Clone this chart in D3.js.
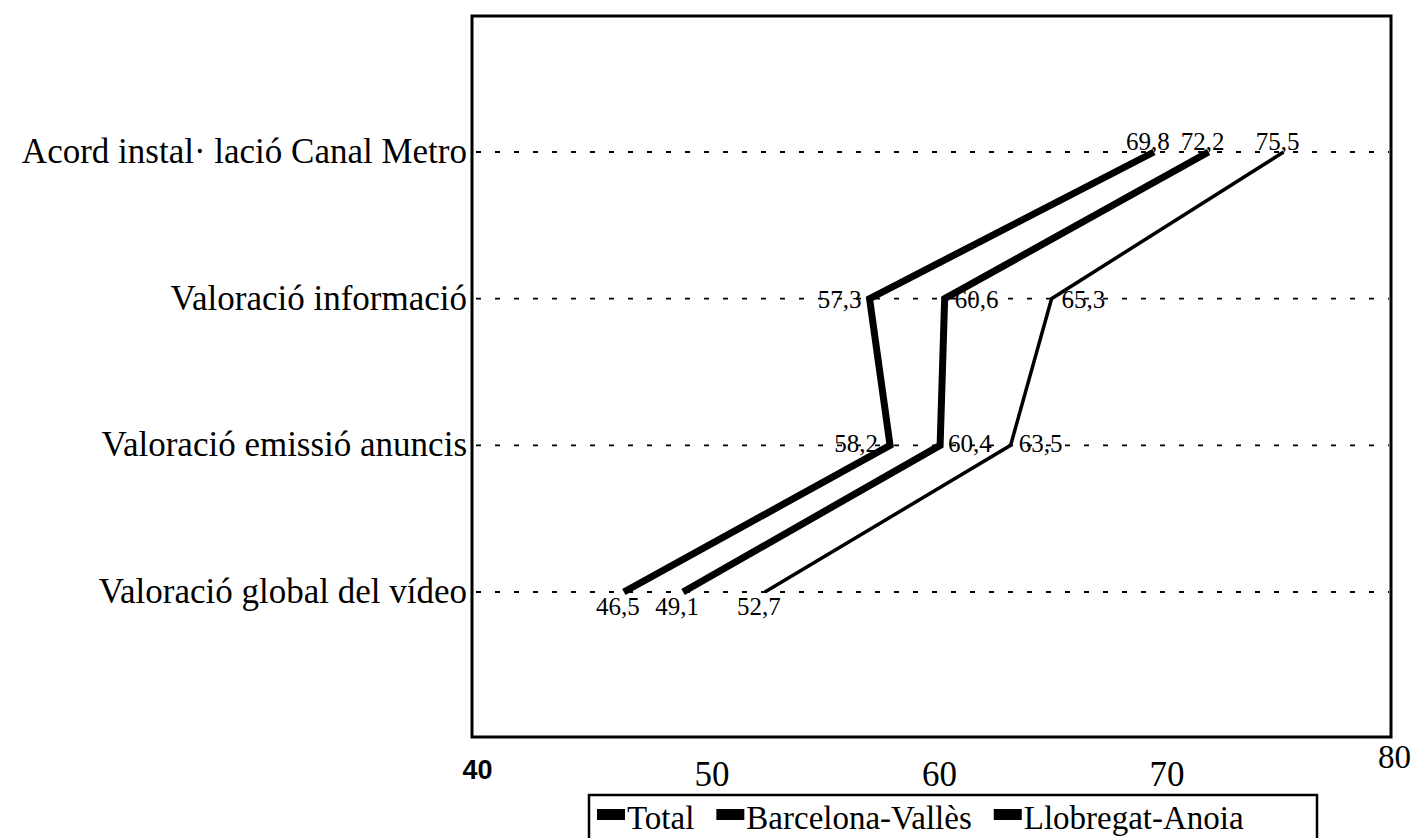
<!DOCTYPE html>
<html>
<head>
<meta charset="utf-8">
<script src="https://cdn.jsdelivr.net/npm/d3@7"></script>
<style>
  html, body { margin: 0; padding: 0; background: #fff; }
  svg { display: block; }
</style>
</head>
<body>
<svg id="chart" width="1416" height="838"></svg>
<script>
const categories = [
  "Acord instal· lació Canal Metro",
  "Valoració informació",
  "Valoració emissió anuncis",
  "Valoració global del vídeo"
];
const seriesNames = ["Total", "Barcelona-Vallès", "Llobregat-Anoia"];
const totalValues = [69.8, 57.3, 58.2, 46.5];
const barcelonaValues = [72.2, 60.6, 60.4, 49.1];
const llobregatValues = [75.5, 65.3, 63.5, 52.7];
const xTicks = [40, 50, 60, 70, 80];

const seriesValues = [totalValues, barcelonaValues, llobregatValues];
const lineWidths = [7, 7, 3.5];

const svg = d3.select("#chart");
const serif = "'Liberation Serif', 'Times New Roman', serif";

const box = { left: 472, right: 1391, top: 16, bottom: 737 };

const x = d3.scaleLinear().domain([40, 80]).range([476, 1386]);
const y = d3.scalePoint().domain(categories).range([152, 592]);

// plot frame
svg.append("rect")
  .attr("x", box.left).attr("y", box.top)
  .attr("width", box.right - box.left).attr("height", box.bottom - box.top)
  .attr("fill", "none").attr("stroke", "#000").attr("stroke-width", 3);

// dotted category guides
svg.append("g").selectAll("line").data(categories).join("line")
  .attr("x1", box.left + 4).attr("x2", box.right - 2)
  .attr("y1", d => y(d)).attr("y2", d => y(d))
  .attr("stroke", "#000").attr("stroke-width", 1.8)
  .attr("stroke-dasharray", "5,14");

// category labels
svg.append("g").selectAll("text").data(categories).join("text")
  .attr("x", 467).attr("y", d => y(d) + 11)
  .attr("text-anchor", "end")
  .style("font-family", serif).style("font-size", "35px").attr("fill", "#000")
  .text(d => d);

// lines
const line = d3.line()
  .x(d => x(d.v))
  .y(d => y(d.c));

seriesValues.forEach((vals, si) => {
  const pts = vals.map((v, i) => ({ v, c: categories[i] }));
  svg.append("path")
    .datum(pts)
    .attr("d", line)
    .attr("fill", "none")
    .attr("stroke", "#000")
    .attr("stroke-width", lineWidths[si])
    .attr("stroke-linejoin", "miter");
});

// value labels
const fmt = v => d3.format(".1f")(v).replace(".", ",");
seriesValues.forEach((vals, si) => {
  vals.forEach((v, i) => {
    let px = x(v), py = y(categories[i]), anchor = "middle";
    if (i === 0) { px -= 6; py -= 2; }
    else if (i === 1) {
      if (si === 0) { anchor = "end"; px -= 8; } else { anchor = "start"; px += 10; }
      py += 9;
    } else if (i === 2) {
      if (si === 0) { anchor = "end"; px -= 12; } else { anchor = "start"; px += 8; }
      py += 7;
    } else { px -= 6; py += 23; }
    svg.append("text")
      .attr("x", px).attr("y", py)
      .attr("text-anchor", anchor)
      .style("font-family", serif).style("font-size", "25px").attr("fill", "#000")
      .text(fmt(v));
  });
});

// x axis (tick labels only)
const axis = d3.axisBottom(x).tickValues(xTicks).tickSize(0).tickPadding(0);
const gAxis = svg.append("g").call(axis);
gAxis.select(".domain").remove();
gAxis.selectAll(".tick text")
  .attr("dy", null)
  .attr("text-anchor", "middle")
  .attr("y", d => d === 80 ? 768 : (d === 40 ? 779 : 786))
  .attr("dx", d => d === 40 ? 1 : 8)
  .style("font-family", d => d === 40 ? "'Liberation Sans', Arial, sans-serif" : serif)
  .style("font-weight", d => d === 40 ? "bold" : "normal")
  .style("font-size", d => d === 40 ? "27px" : (d === 80 ? "33px" : "35px"))
  .attr("fill", "#000");

// legend
const legend = svg.append("g");
legend.append("rect")
  .attr("x", 589).attr("y", 795).attr("width", 1317 - 589).attr("height", 70)
  .attr("fill", "#fff").attr("stroke", "#000").attr("stroke-width", 2.5);
let lx = 597;
seriesNames.forEach((name, si) => {
  legend.append("rect")
    .attr("x", lx).attr("y", 809).attr("width", 28).attr("height", 11)
    .attr("fill", "#000");
  const t = legend.append("text")
    .attr("x", lx + 30).attr("y", 829)
    .style("font-family", serif).style("font-size", "33px").attr("fill", "#000")
    .text(name);
  lx += 30 + t.node().getComputedTextLength() + 22;
});
</script>
</body>
</html>
